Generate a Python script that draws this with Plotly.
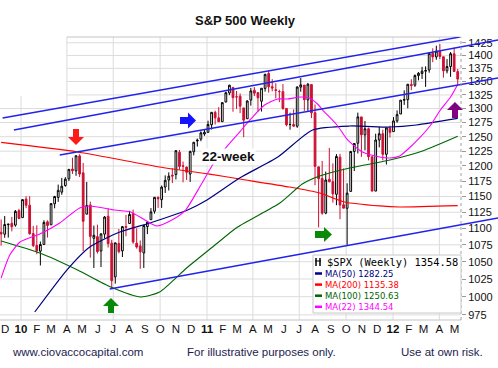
import math
import pandas as pd
import plotly.graph_objects as go

# ---------------- data ----------------
week_dates = pd.date_range("2009-11-23", periods=129, freq="7D")

opens = [1094.0, 1091.1, 1105.5, 1107.8, 1105.0, 1127.5, 1116.6, 1145.9, 1136.0, 1092.0,
         1074.0, 1065.5, 1075.5, 1110.0, 1105.4, 1138.4, 1148.5, 1157.0, 1167.7, 1178.7,
         1194.9, 1192.0, 1217.0, 1188.6, 1122.0, 1136.5, 1084.8, 1087.3, 1065.8, 1091.2,
         1118.7, 1077.5, 1028.1, 1077.2, 1066.0, 1102.9, 1107.5, 1122.8, 1077.5, 1073.4,
         1062.9, 1102.6, 1113.4, 1126.6, 1148.6, 1145.0, 1165.3, 1176.8, 1184.7, 1185.7,
         1223.2, 1200.4, 1198.1, 1186.6, 1223.9, 1242.5, 1245.8, 1254.7, 1257.6, 1271.0,
         1293.2, 1283.3, 1276.5, 1311.9, 1328.7, 1338.9, 1321.6, 1322.7, 1301.2, 1281.7,
         1315.5, 1333.6, 1329.4, 1313.4, 1337.1, 1365.2, 1340.2, 1334.8, 1331.1, 1331.1,
         1300.3, 1271.3, 1271.5, 1268.4, 1339.6, 1343.3, 1315.9, 1344.3, 1292.6, 1198.5,
         1179.2, 1123.6, 1177.9, 1174.0, 1153.5, 1214.9, 1136.9, 1131.2, 1158.2, 1224.5,
         1238.7, 1285.0, 1253.2, 1263.9, 1215.6, 1158.7, 1244.3, 1255.1, 1219.7, 1265.0,
         1258.9, 1277.8, 1290.2, 1315.3, 1316.2, 1344.3, 1343.1, 1361.2, 1365.2, 1369.6,
         1371.9, 1404.2, 1397.1, 1408.5, 1397.5, 1370.3, 1378.5, 1403.3, 1368.8]
highs = [1113.7, 1119.1, 1107.0, 1117.7, 1128.5, 1130.4, 1145.4, 1150.4, 1150.5, 1103.7,
         1104.7, 1080.0, 1112.4, 1112.3, 1139.0, 1151.0, 1169.2, 1180.2, 1181.4, 1194.7,
         1213.9, 1217.3, 1219.8, 1205.1, 1173.6, 1141.8, 1104.2, 1105.7, 1092.3, 1119.1,
         1131.2, 1082.6, 1078.2, 1099.1, 1103.7, 1120.9, 1127.3, 1129.2, 1100.1, 1081.6,
         1105.1, 1110.9, 1131.5, 1148.9, 1149.9, 1167.7, 1184.4, 1189.4, 1196.1, 1227.1,
         1227.1, 1207.4, 1198.9, 1225.6, 1240.4, 1246.7, 1259.4, 1262.6, 1278.2, 1293.2,
         1296.1, 1302.7, 1311.0, 1330.8, 1344.1, 1338.9, 1332.3, 1327.7, 1301.2, 1315.3,
         1337.9, 1339.5, 1329.4, 1337.5, 1364.6, 1370.6, 1354.4, 1346.8, 1334.6, 1345.2,
         1300.3, 1292.5, 1298.6, 1341.0, 1356.5, 1343.3, 1347.0, 1344.3, 1307.4, 1198.5,
         1208.5, 1190.7, 1230.7, 1204.4, 1220.1, 1220.4, 1195.9, 1171.4, 1224.6, 1239.0,
         1292.7, 1285.0, 1277.6, 1266.0, 1215.6, 1255.2, 1267.1, 1262.3, 1265.4, 1269.4,
         1284.6, 1296.8, 1315.5, 1333.5, 1345.3, 1354.3, 1363.4, 1367.8, 1378.0, 1378.9,
         1405.9, 1414.0, 1419.2, 1422.4, 1397.5, 1392.8, 1406.6, 1415.3, 1373.9]
lows = [1073.9, 1085.7, 1085.9, 1095.4, 1102.5, 1114.8, 1116.6, 1131.4, 1090.2, 1071.6,
        1061.0, 1044.5, 1075.5, 1086.0, 1105.4, 1131.2, 1141.4, 1152.8, 1165.8, 1175.1,
        1186.8, 1183.7, 1181.6, 1065.8, 1122.0, 1055.9, 1040.8, 1062.0, 1042.2, 1084.8,
        1071.0, 1010.9, 1018.4, 1062.3, 1056.9, 1088.0, 1107.5, 1076.6, 1069.4, 1039.7,
        1040.9, 1091.2, 1113.4, 1122.8, 1131.9, 1131.9, 1155.7, 1159.7, 1171.7, 1177.7,
        1194.1, 1173.0, 1176.9, 1173.6, 1217.8, 1232.9, 1242.2, 1251.5, 1257.6, 1262.7,
        1271.3, 1275.9, 1276.5, 1311.7, 1324.6, 1294.3, 1299.2, 1291.8, 1249.1, 1281.7,
        1305.3, 1322.9, 1294.7, 1294.7, 1331.1, 1329.2, 1331.6, 1318.5, 1311.8, 1297.9,
        1268.2, 1262.3, 1267.4, 1265.6, 1330.9, 1295.9, 1295.9, 1282.9, 1168.1, 1101.5,
        1121.1, 1122.0, 1172.9, 1140.1, 1136.1, 1114.2, 1131.1, 1074.8, 1158.2, 1191.5,
        1221.1, 1215.4, 1226.6, 1209.4, 1158.7, 1158.7, 1231.5, 1209.5, 1202.4, 1248.6,
        1258.9, 1274.7, 1290.2, 1306.7, 1300.5, 1333.9, 1340.0, 1352.2, 1354.9, 1340.0,
        1366.7, 1386.9, 1391.6, 1392.9, 1357.4, 1365.4, 1358.8, 1368.0, 1343.1]
closes = [1091.49, 1105.98, 1106.41, 1102.47, 1126.48, 1115.10, 1144.98, 1136.03, 1091.76, 1073.87,
          1066.19, 1075.51, 1109.17, 1104.49, 1138.70, 1149.99, 1159.90, 1166.59, 1178.10, 1194.37,
          1192.13, 1217.28, 1186.69, 1110.88, 1135.68, 1087.69, 1089.41, 1064.88, 1091.60, 1117.51,
          1076.76, 1022.58, 1077.96, 1064.88, 1102.66, 1101.60, 1121.64, 1079.25, 1071.69, 1064.59,
          1104.51, 1109.55, 1125.59, 1148.67, 1146.24, 1165.15, 1176.19, 1183.08, 1183.26, 1225.85,
          1199.21, 1199.73, 1189.40, 1224.71, 1240.40, 1243.91, 1256.77, 1257.64, 1271.50, 1293.24,
          1283.35, 1276.34, 1310.87, 1329.15, 1343.01, 1319.88, 1321.15, 1304.28, 1279.21, 1313.80,
          1332.41, 1328.17, 1319.68, 1337.38, 1363.61, 1340.20, 1337.77, 1333.27, 1331.10, 1300.16,
          1270.98, 1271.50, 1268.45, 1339.67, 1343.80, 1316.14, 1345.02, 1292.28, 1199.38, 1178.81,
          1123.53, 1176.80, 1173.97, 1154.23, 1216.01, 1136.43, 1131.42, 1155.46, 1224.58, 1238.25,
          1285.09, 1253.23, 1263.85, 1215.65, 1158.67, 1244.28, 1255.19, 1219.66, 1265.33, 1257.60,
          1277.81, 1289.09, 1315.38, 1316.33, 1344.90, 1342.64, 1361.23, 1365.74, 1369.63, 1370.87,
          1404.17, 1397.11, 1408.47, 1398.08, 1370.26, 1378.53, 1403.36, 1369.10, 1354.58]

ma50_dates = ["2010-01-28", "2010-04-01", "2010-05-16", "2010-07-14", "2010-09-11", "2010-11-24",
              "2011-01-01", "2011-03-06", "2011-05-20", "2011-07-27", "2011-10-08", "2011-12-26",
              "2012-02-16", "2012-05-07"]
ma50_vals = [978.9, 1037.9, 1071.8, 1094.4, 1108.3, 1128.5, 1144.4, 1180.0, 1215.1, 1261.8,
             1268.8, 1267.0, 1270.6, 1282.25]

ma200_dates = ["2009-11-23", "2010-04-22", "2010-09-30", "2011-01-06", "2011-03-06", "2011-06-12",
               "2011-08-10", "2011-09-28", "2011-12-06", "2012-01-14", "2012-05-07"]
ma200_vals = [1240.0, 1223.6, 1198.3, 1186.5, 1178.4, 1165.3, 1155.6, 1141.2, 1134.9, 1133.3, 1135.38]

ma100_dates = ["2009-11-23", "2010-02-07", "2010-04-22", "2010-06-26", "2010-08-24", "2010-09-30",
               "2010-11-22", "2011-01-12", "2011-03-02", "2011-05-24", "2011-07-07", "2011-08-10",
               "2011-10-08", "2011-12-26", "2012-02-28", "2012-05-07"]
ma100_vals = [1080.8, 1062.8, 1037.9, 1013.6, 999.6, 1006.6, 1040.8, 1071.8, 1102.1, 1139.6,
              1170.2, 1183.3, 1196.6, 1210.0, 1225.3, 1250.63]

ma22_dates = ["2009-11-23", "2009-12-10", "2009-12-30", "2010-02-07", "2010-03-18", "2010-04-26",
              "2010-05-16", "2010-07-04", "2010-08-04", "2010-09-01", "2010-09-24", "2010-10-24",
              "2010-11-20", "2010-12-20", "2011-01-18", "2011-03-06", "2011-03-28", "2011-04-24",
              "2011-05-20", "2011-06-08", "2011-07-04", "2011-07-21", "2011-08-06", "2011-08-16",
              "2011-09-13", "2011-10-04", "2011-11-02", "2011-12-06", "2011-12-26", "2012-01-14",
              "2012-02-02", "2012-02-22", "2012-03-15", "2012-04-03", "2012-04-23", "2012-05-07"]
ma22_vals = [1026.4, 1059.9, 1079.3, 1091.4, 1108.3, 1131.7, 1134.9, 1128.5, 1125.4, 1112.9,
             1103.6, 1112.9, 1128.5, 1168.6, 1210.0, 1258.2, 1281.3, 1306.5, 1317.5, 1317.5,
             1321.1, 1319.3, 1308.3, 1297.4, 1270.6, 1244.3, 1223.6, 1215.1, 1213.4, 1216.8,
             1230.5, 1247.8, 1270.6, 1297.4, 1321.1, 1344.54]

# channel lines: (start date, end date), (start value, end value)
channel_dates = [("2009-11-26", "2012-05-11"), ("2009-12-18", "2012-07-25"),
                 ("2010-03-18", "2012-07-25"), ("2010-06-24", "2012-07-25")]
channel_vals = [(1283.0, 1436.5), (1261.8, 1430.5), (1218.5, 1356.7), (1010.8, 1116.0)]

y_ticks = list(range(975, 1426, 25))
month_starts = pd.date_range("2009-12-01", "2012-05-01", freq="MS")

legend_lines = [("MA(50) 1282.25", "#000080"), ("MA(200) 1135.38", "#ff0000"),
                ("MA(100) 1250.63", "#006400"), ("MA(22) 1344.54", "#ff00ff")]

# ---------------- geometry ----------------
W, H = 498, 368
TOP, BOT, RIGHT = 37, 320, 461
BASE = pd.Timestamp("2010-01-01")
DPP = 365.0 / 186.0  # days per pixel


def px_date(xp):
    return BASE + pd.Timedelta(days=(xp - 21) * DPP)


def py_val(yp):
    return 1000 * math.exp((296.7 - yp) / 717.0)


Y_LO, Y_HI = math.log10(py_val(BOT)), math.log10(py_val(TOP))


def PX(x):
    return x / W


def PY(y):
    return (BOT - y) / (BOT - TOP)


def val_paper(v):
    return (math.log10(v) - Y_LO) / (Y_HI - Y_LO)


FONT = "Liberation Sans, Arial, sans-serif"

fig = go.Figure()

fig.add_trace(go.Candlestick(
    x=week_dates, open=opens, high=highs, low=lows, close=closes,
    increasing=dict(line=dict(color="#000000", width=1), fillcolor="#ffffff"),
    decreasing=dict(line=dict(color="#cc1133", width=1), fillcolor="#cc1133"),
    whiskerwidth=0, showlegend=False, hoverinfo="skip", xaxis="x", yaxis="y"))

for d, v, c, w in [(ma200_dates, ma200_vals, "#ff0000", 1.2),
                   (ma100_dates, ma100_vals, "#006400", 1.1),
                   (ma50_dates, ma50_vals, "#000080", 1.2),
                   (ma22_dates, ma22_vals, "#ff00ff", 1.1)]:
    fig.add_trace(go.Scatter(x=pd.to_datetime(d), y=v, mode="lines",
                             line=dict(color=c, width=w, shape="spline", smoothing=0.6),
                             showlegend=False, hoverinfo="skip", xaxis="x", yaxis="y"))

for (d0, d1), (v0, v1) in zip(channel_dates, channel_vals):
    fig.add_trace(go.Scatter(x=pd.to_datetime([d0, d1]), y=[v0, v1], mode="lines",
                             line=dict(color="#2222ee", width=1.4),
                             showlegend=False, hoverinfo="skip", xaxis="x2", yaxis="y2"))

shapes = []
GRID = "#dcdcdc"
# horizontal gridlines
for t in y_ticks:
    yp = val_paper(t)
    ypix = BOT - yp * (BOT - TOP)
    x0 = PX(67) if ypix < 96 else 0
    shapes.append(dict(type="line", xref="paper", yref="paper", x0=x0, x1=PX(RIGHT),
                       y0=yp, y1=yp, line=dict(color=GRID, width=1), layer="below"))
# quarterly vertical gridlines
for q in pd.date_range("2010-01-01", "2012-04-01", freq="QS"):
    y1 = PY(96) if q == pd.Timestamp("2010-01-01") else 1
    shapes.append(dict(type="line", xref="x", yref="paper", x0=q, x1=q, y0=0, y1=y1,
                       line=dict(color=GRID, width=1), layer="below"))
# frame
shapes.append(dict(type="line", xref="paper", yref="paper", x0=PX(67), x1=PX(RIGHT), y0=1, y1=1,
                   line=dict(color="#c4c4c4", width=1), layer="below"))
shapes.append(dict(type="line", xref="paper", yref="paper", x0=0, x1=PX(RIGHT), y0=0, y1=0,
                   line=dict(color="#c4c4c4", width=1), layer="below"))
shapes.append(dict(type="line", xref="paper", yref="paper", x0=PX(RIGHT), x1=PX(RIGHT), y0=0, y1=1,
                   line=dict(color="#a0a0a0", width=1, dash="dot"), layer="above"))


def poly(pts, color):
    path = "M " + " L ".join(f"{PX(x):.5f},{PY(y):.5f}" for x, y in pts) + " Z"
    return dict(type="path", xref="paper", yref="paper", path=path,
                fillcolor=color, line=dict(width=0), layer="above")


# arrows
shapes.append(poly([(73, 129), (79, 129), (79, 137), (84, 137), (76, 145), (68, 137), (73, 137)], "#ff1a1a"))
shapes.append(poly([(180, 117), (188, 117), (188, 112.5), (196, 120.5), (188, 128.5), (188, 124), (180, 124)], "#1414ff"))
shapes.append(poly([(111, 298), (119, 306), (114, 306), (114, 313), (108, 313), (108, 306), (103, 306)], "#088a08"))
shapes.append(poly([(315, 231), (324, 231), (324, 227), (332, 234.5), (324, 242), (324, 238), (315, 238)], "#088a08"))
shapes.append(poly([(455, 102), (463, 110), (458, 110), (458, 118), (452, 118), (452, 110), (447, 110)], "#800080"))

# legend box
shapes.append(dict(type="rect", xref="paper", yref="paper", x0=PX(313), x1=PX(RIGHT),
                   y0=PY(313), y1=PY(255), fillcolor="#ffffff",
                   line=dict(color="#c8c8c8", width=1), layer="above"))
# small candle icon
shapes.append(dict(type="line", xref="paper", yref="paper", x0=PX(316), x1=PX(316), y0=PY(266), y1=PY(258),
                   line=dict(color="#000", width=1.5), layer="above"))
shapes.append(dict(type="line", xref="paper", yref="paper", x0=PX(320), x1=PX(320), y0=PY(266), y1=PY(258),
                   line=dict(color="#000", width=1.5), layer="above"))
shapes.append(dict(type="line", xref="paper", yref="paper", x0=PX(315), x1=PX(321), y0=PY(261), y1=PY(261),
                   line=dict(color="#000", width=1), layer="above"))
for i, (txt, col) in enumerate(legend_lines):
    yy = 273.5 + i * 11.1
    shapes.append(dict(type="line", xref="paper", yref="paper", x0=PX(315), x1=PX(322),
                       y0=PY(yy), y1=PY(yy), line=dict(color=col, width=2.5), layer="above"))

annotations = []
annotations.append(dict(text="<b>S&P 500 Weekly</b>", x=PX(245), y=PY(20), xref="paper", yref="paper",
                        showarrow=False, font=dict(family=FONT, size=13, color="#111"),
                        xanchor="center", yanchor="middle"))
annotations.append(dict(text="<b>22-week</b>", x=PX(201), y=PY(156), xref="paper", yref="paper",
                        showarrow=False, font=dict(family=FONT, size=13.5, color="#111"),
                        xanchor="left", yanchor="middle", bgcolor="#ffffff", borderpad=0))
annotations.append(dict(text="$SPX (Weekly) 1354.58", x=PX(325), y=PY(262), xref="paper", yref="paper",
                        showarrow=False, font=dict(family="DejaVu Sans Mono", size=10.4, color="#000"),
                        xanchor="left", yanchor="middle"))
for i, (txt, col) in enumerate(legend_lines):
    yy = 273.5 + i * 11.1
    annotations.append(dict(text=txt, x=PX(323), y=PY(yy), xref="paper", yref="paper",
                            showarrow=False, font=dict(family="DejaVu Sans", size=8.5, color=col),
                            xanchor="left", yanchor="middle"))
foot = dict(family=FONT, size=11.5, color="#1c1c50")
annotations.append(dict(text="www.ciovaccocapital.com", x=PX(10), y=PY(352), xref="paper", yref="paper",
                        showarrow=False, font=foot, xanchor="left", yanchor="middle"))
annotations.append(dict(text="For illustrative purposes only.", x=PX(185), y=PY(352), xref="paper",
                        yref="paper", showarrow=False, font=foot, xanchor="left", yanchor="middle"))
annotations.append(dict(text="Use at own risk.", x=PX(399), y=PY(352), xref="paper", yref="paper",
                        showarrow=False, font=foot, xanchor="left", yanchor="middle"))

ticktext = []
for m in month_starts:
    if m.month == 1:
        ticktext.append(f"<b>{m.year % 100:02d}</b>")
    else:
        ticktext.append(m.strftime("%b")[0])

fig.update_layout(
    width=W, height=H,
    margin=dict(l=0, r=0, t=TOP, b=H - BOT, autoexpand=False),
    paper_bgcolor="#ffffff", plot_bgcolor="rgba(0,0,0,0)",
    showlegend=False,
    shapes=shapes, annotations=annotations,
    xaxis=dict(domain=[0, RIGHT / W], type="date", range=[px_date(0), px_date(RIGHT)],
               tickmode="array", tickvals=list(month_starts), ticktext=ticktext,
               showgrid=False, zeroline=False, showline=False, ticks="",
               tickfont=dict(family=FONT, size=11.5, color="#111"),
               rangeslider=dict(visible=False), anchor="y", fixedrange=True, automargin=False),
    yaxis=dict(domain=[0, 1], type="log", range=[Y_LO, Y_HI], side="right", anchor="x",
               tickmode="array", tickvals=y_ticks, ticktext=[str(t) for t in y_ticks],
               showgrid=False, zeroline=False, showline=False,
               ticks="outside", ticklen=4, tickcolor="#999",
               tickfont=dict(family=FONT, size=11, color="#111"), fixedrange=True, automargin=False),
    xaxis2=dict(domain=[0, 1], type="date", range=[px_date(0), px_date(W)], anchor="y2",
                visible=False, fixedrange=True, automargin=False),
    yaxis2=dict(domain=[0, 1], type="log", range=[Y_LO, Y_HI], anchor="x2",
                visible=False, fixedrange=True, automargin=False),
)

fig.write_html("out.html",
               config={"displayModeBar": False},
               post_script="document.body.style.margin='0';document.body.style.padding='0';"
                           "document.body.style.overflow='hidden';")
